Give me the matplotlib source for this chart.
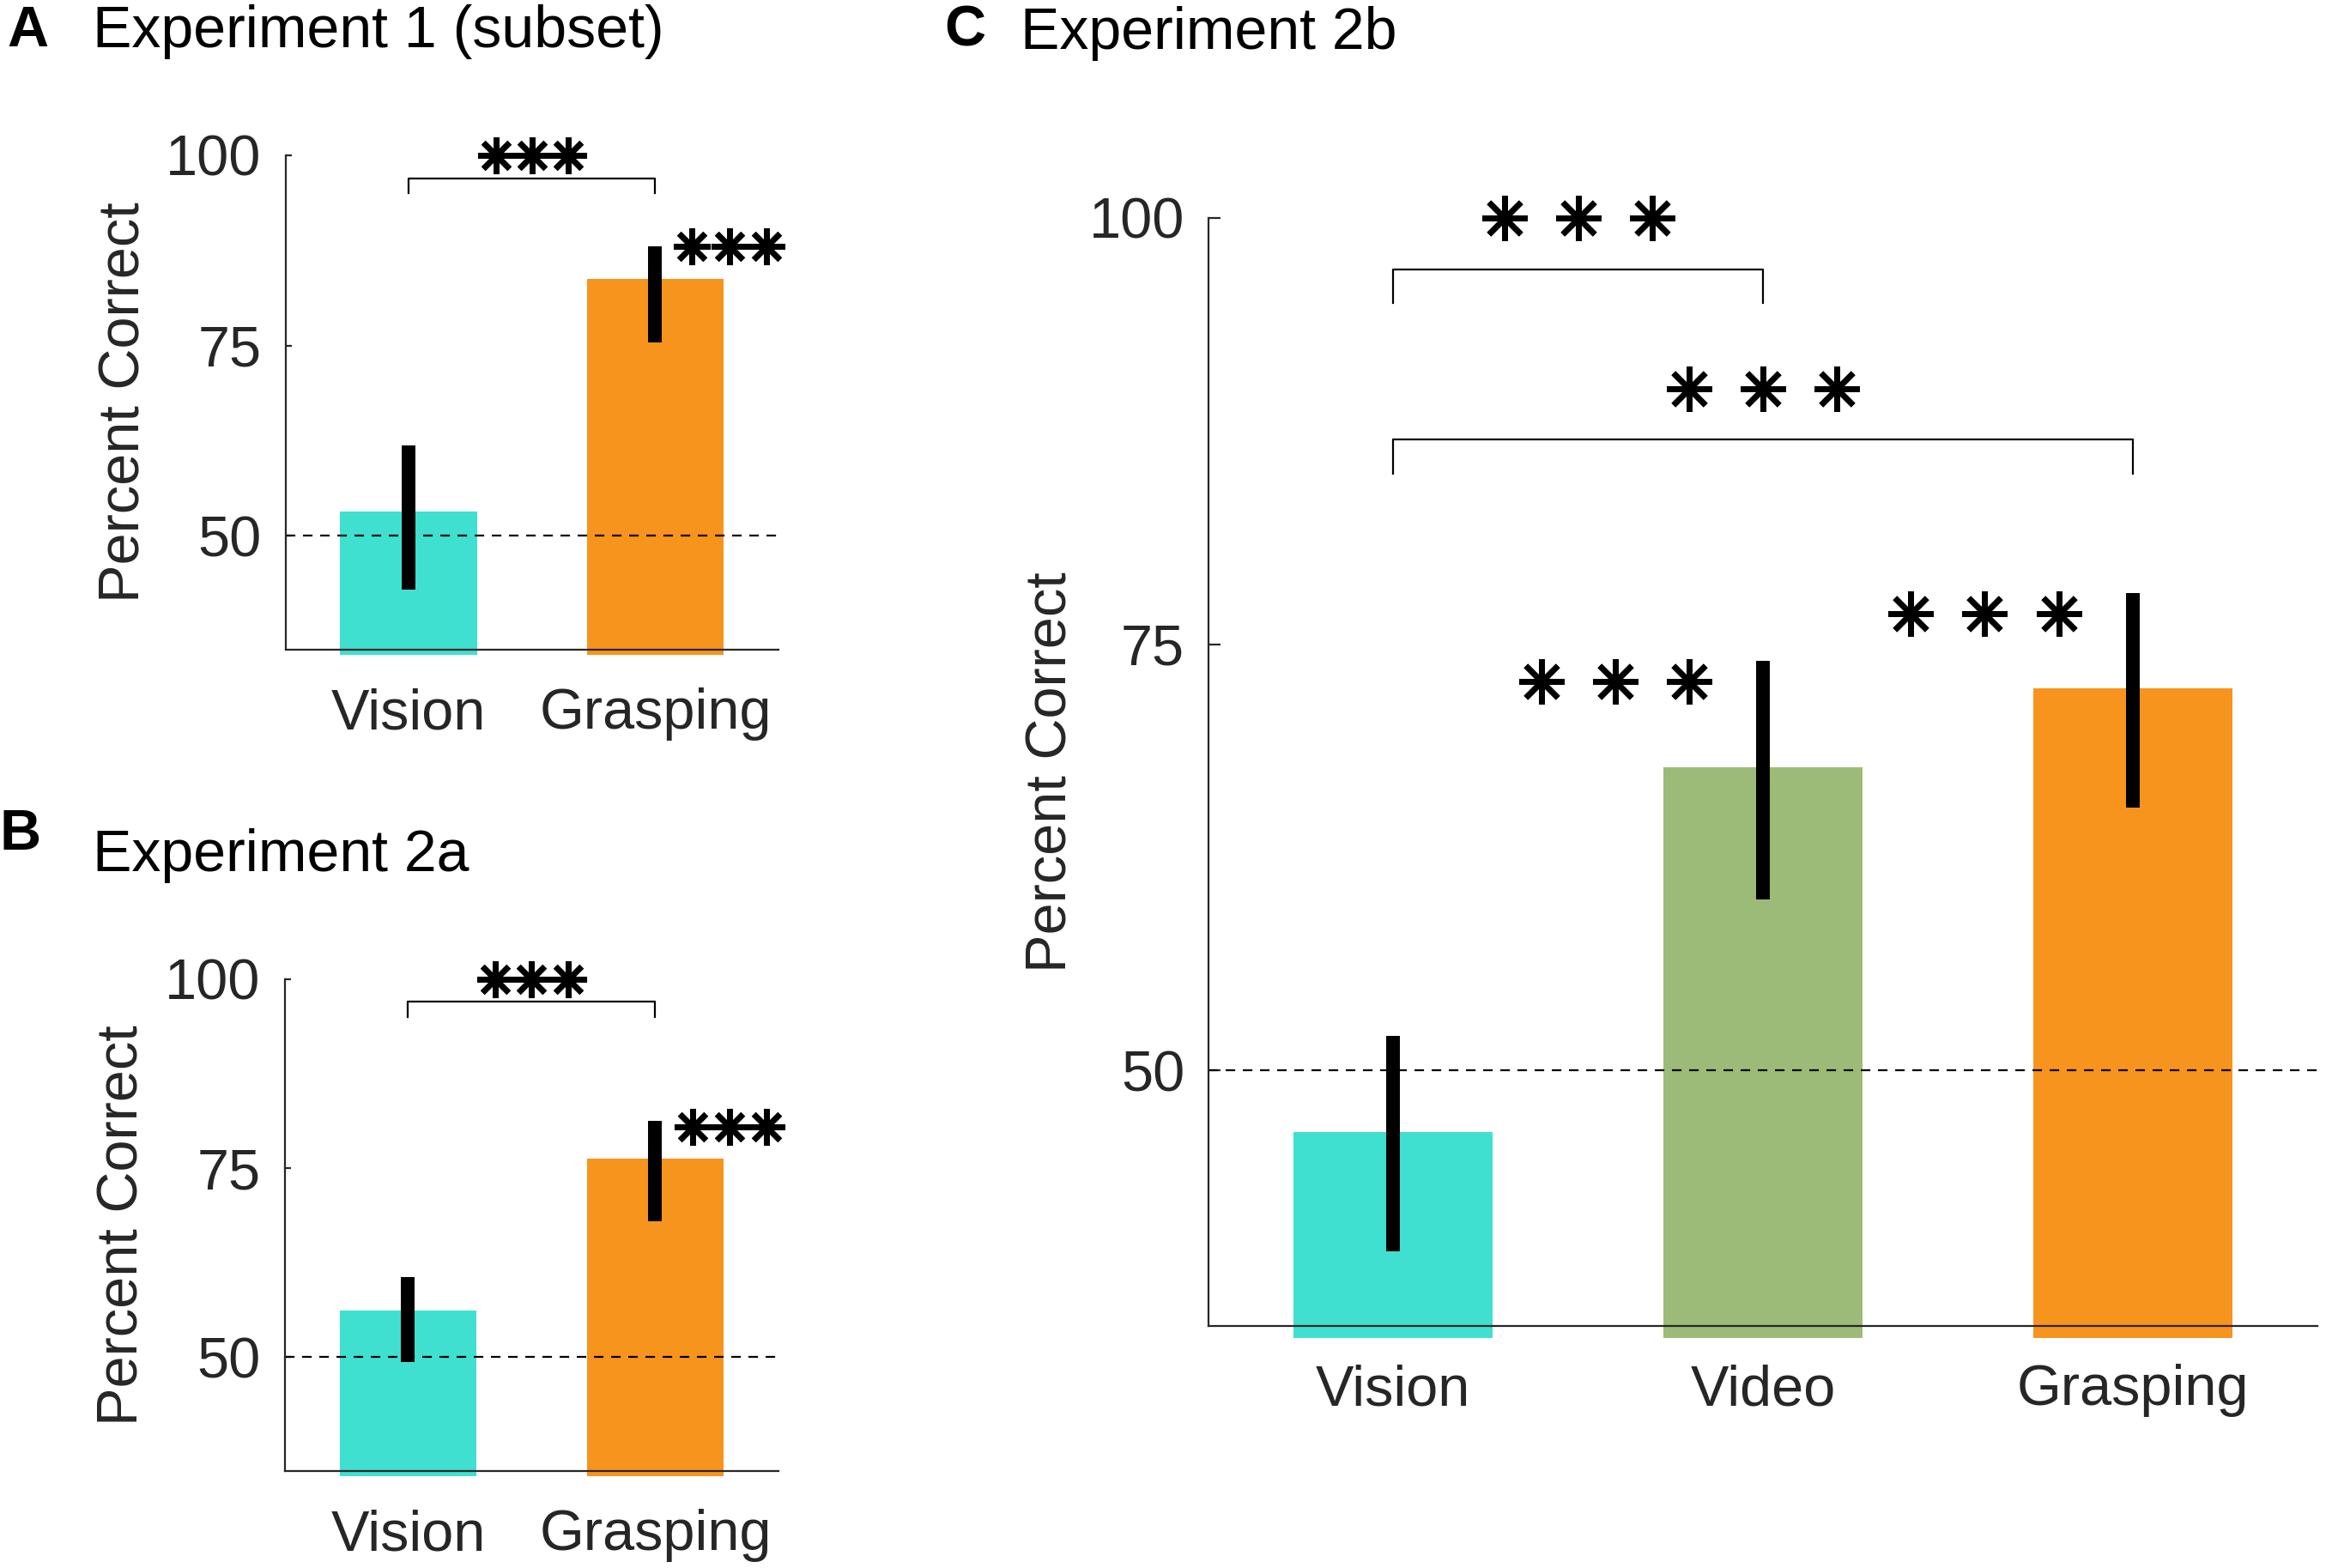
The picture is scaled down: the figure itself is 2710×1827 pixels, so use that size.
import matplotlib
matplotlib.use('Agg')
import matplotlib.pyplot as plt
import numpy as np

plt.rcParams['font.family'] = ['Liberation Sans', 'DejaVu Sans']

# ---------------- data ----------------
exp1_conditions = ['Vision', 'Grasping']
exp1_mean = [53.2, 83.8]
exp1_ci_low = [42.9, 75.4]
exp1_ci_high = [61.9, 88.0]
exp1_sig_vs_chance = [False, True]
exp1_pairs = [(0, 1)]

exp2a_conditions = ['Vision', 'Grasping']
exp2a_mean = [56.2, 76.3]
exp2a_ci_low = [49.4, 68.0]
exp2a_ci_high = [60.6, 81.3]
exp2a_sig_vs_chance = [False, True]
exp2a_pairs = [(0, 1)]

exp2b_conditions = ['Vision', 'Video', 'Grasping']
exp2b_mean = [46.4, 67.8, 72.4]
exp2b_ci_low = [39.4, 60.0, 65.4]
exp2b_ci_high = [52.0, 74.0, 78.0]
exp2b_sig_vs_chance = [False, True, True]
exp2b_pairs = [(0, 1), (0, 2)]

chance_level = 50
y_ticks = [50, 75, 100]
cond_colors = {'Vision': '#40E0D0', 'Video': '#9CBB78', 'Grasping': '#F7941E'}

TXT = '#262626'
W, H = 2710, 1827
fig = plt.figure(figsize=(W / 100, H / 100), dpi=100)


def px_rect(left, top, right, bottom):
    return [left / W, 1 - bottom / H, (right - left) / W, (bottom - top) / H]


def panel(rect, conds, mean, lo, hi, sig, pairs, bar_w, tick_len, star_ms,
          star_mew, star_dx, chance_star_x, chance_star_dy, bracket_levels,
          label_x):
    ax = fig.add_axes(rect)
    mean = np.asarray(mean, float)
    lo = np.asarray(lo, float)
    hi = np.asarray(hi, float)
    x = np.arange(1, len(conds) + 1)
    base = 34.3
    ax.bar(x, mean - base, bottom=base, width=bar_w,
           color=[cond_colors[c] for c in conds], linewidth=0,
           clip_on=False, zorder=1)
    ax.axhline(chance_level, color='k', ls=(0, (5, 4)), lw=1.6, zorder=2)
    ax.errorbar(x, mean, yerr=[mean - lo, hi - mean], fmt='none', ecolor='k',
                elinewidth=11.5, capsize=0, zorder=3)
    ax.set_xlim(0.5, len(conds) + 0.5)
    ax.set_ylim(35, 100)
    for s in ['top', 'right']:
        ax.spines[s].set_visible(False)
    for s in ['left', 'bottom']:
        ax.spines[s].set_linewidth(1.6)
        ax.spines[s].set_color(TXT)
    ax.set_yticks(y_ticks)
    ax.set_xticks(x, conds)
    ax.tick_params(axis='x', length=0, pad=32, labelsize=48, colors=TXT)
    ax.tick_params(axis='y', direction='in', length=tick_len, width=1.6,
                   pad=20, labelsize=48, colors=TXT)
    ax.set_ylabel('Percent Correct', fontsize=48, color=TXT)
    ax.yaxis.set_label_coords(label_x, 0.5)
    # stars versus chance
    for i, s in enumerate(sig):
        if s:
            xs = x[i] + np.asarray(chance_star_x)
            ax.plot(xs, [hi[i] + chance_star_dy] * 3, ls='none',
                    marker=(8, 2, 0), ms=star_ms, mew=star_mew, color='k',
                    clip_on=False, zorder=4)
    # comparison brackets
    for (a, b), lev in zip(pairs, bracket_levels):
        ax.plot([x[a], x[a], x[b], x[b]], [lev - 2, lev, lev, lev - 2],
                color='k', lw=1.6, clip_on=False, zorder=4)
        mid = (x[a] + x[b]) / 2
        ax.plot(mid + np.array([-star_dx, 0, star_dx]), [lev + 3] * 3,
                ls='none', marker=(8, 2, 0), ms=star_ms, mew=star_mew,
                color='k', clip_on=False, zorder=4)
    return ax


# Panel A
panel(px_rect(332.5, 181, 907, 757), exp1_conditions, exp1_mean, exp1_ci_low,
      exp1_ci_high, exp1_sig_vs_chance, exp1_pairs, bar_w=0.555, tick_len=5,
      star_ms=31, star_mew=4.8, star_dx=0.147,
      chance_star_x=[0.15, 0.30, 0.45], chance_star_dy=0.0,
      bracket_levels=[97], label_x=-0.272)

# Panel B
panel(px_rect(331.5, 1140.7, 907.4, 1713.6), exp2a_conditions, exp2a_mean,
      exp2a_ci_low, exp2a_ci_high, exp2a_sig_vs_chance, exp2a_pairs,
      bar_w=0.555, tick_len=5, star_ms=31, star_mew=4.8, star_dx=0.147,
      chance_star_x=[0.15, 0.30, 0.45], chance_star_dy=-0.8,
      bracket_levels=[97], label_x=-0.272)

# Panel C
panel(px_rect(1408, 254, 2700, 1545), exp2b_conditions, exp2b_mean,
      exp2b_ci_low, exp2b_ci_high, exp2b_sig_vs_chance, exp2b_pairs,
      bar_w=0.538, tick_len=10, star_ms=38, star_mew=4.8, star_dx=0.2,
      chance_star_x=[-0.6, -0.4, -0.2], chance_star_dy=-1.2,
      bracket_levels=[97, 87], label_x=-0.117)

# Panel letters and titles
fig.text(8 / W, 1 - 54 / H, 'A', fontsize=48, fontweight='bold', va='baseline')
fig.text(108 / W, 1 - 55 / H, 'Experiment 1 (subset)', fontsize=49, va='baseline')
fig.text(0 / W, 1 - 990 / H, 'B', fontsize=48, fontweight='bold', va='baseline')
fig.text(108 / W, 1 - 1015 / H, 'Experiment 2a', fontsize=49, va='baseline')
fig.text(1100 / W, 1 - 54 / H, 'C', fontsize=48, fontweight='bold', va='baseline')
fig.text(1189 / W, 1 - 56.6 / H, 'Experiment 2b', fontsize=49, va='baseline')

fig.savefig('out.png', dpi=100)
